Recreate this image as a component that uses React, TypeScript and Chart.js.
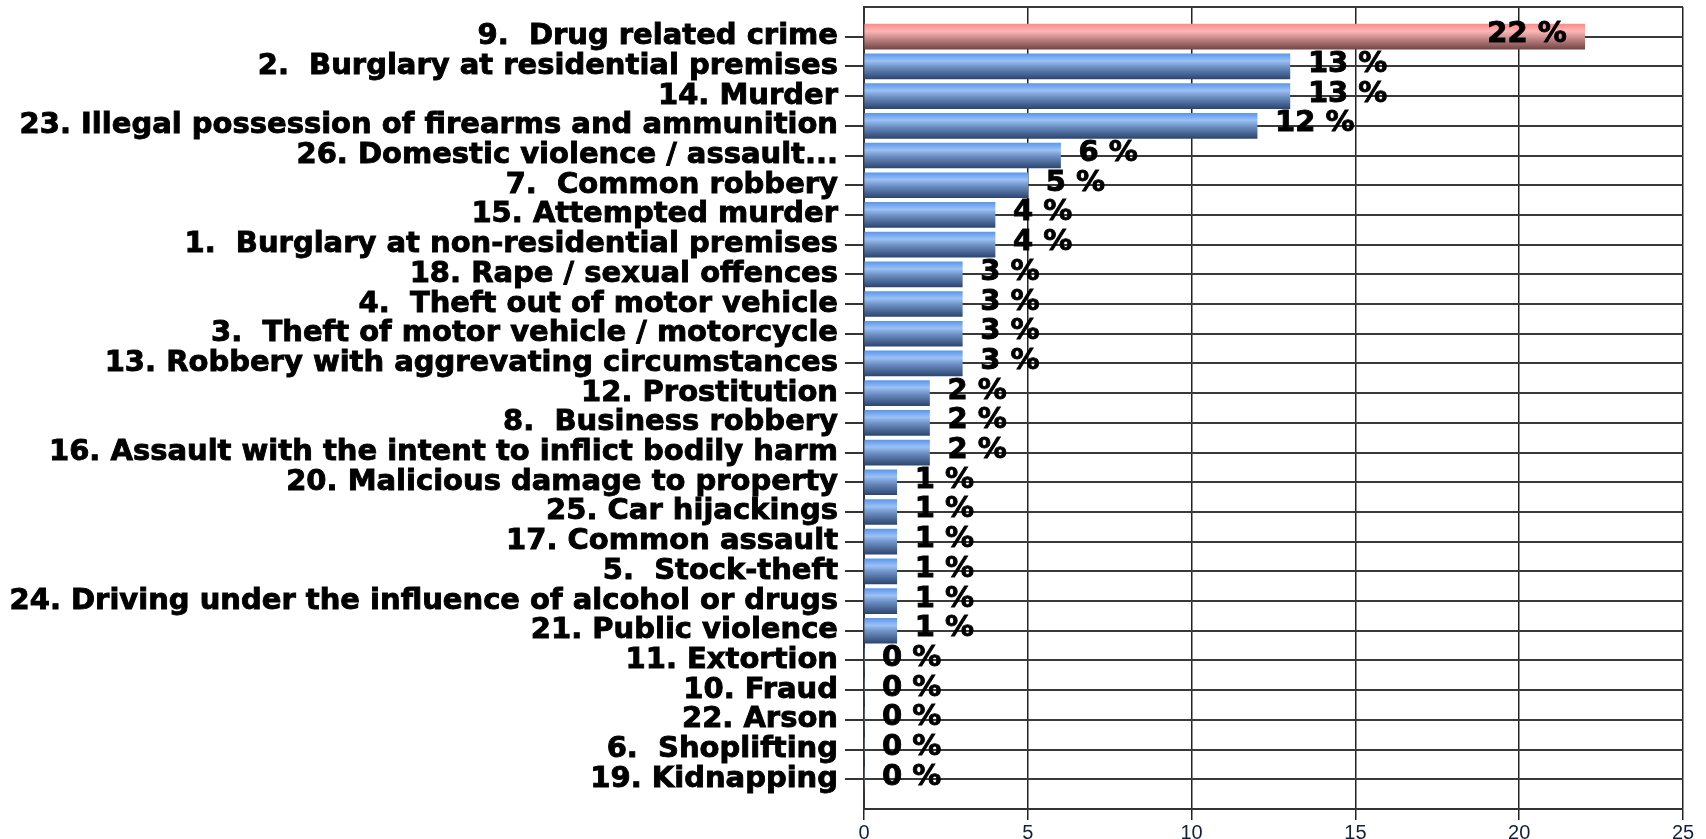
import React, { useEffect, useRef } from "react";
import { Chart, registerables } from "chart.js";

Chart.register(...registerables);

const CATEGORIES: string[] = [
  "9.  Drug related crime",
  "2.  Burglary at residential premises",
  "14. Murder",
  "23. Illegal possession of firearms and ammunition",
  "26. Domestic violence / assault...",
  "7.  Common robbery",
  "15. Attempted murder",
  "1.  Burglary at non-residential premises",
  "18. Rape / sexual offences",
  "4.  Theft out of motor vehicle",
  "3.  Theft of motor vehicle / motorcycle",
  "13. Robbery with aggrevating circumstances",
  "12. Prostitution",
  "8.  Business robbery",
  "16. Assault with the intent to inflict bodily harm",
  "20. Malicious damage to property",
  "25. Car hijackings",
  "17. Common assault",
  "5.  Stock-theft",
  "24. Driving under the influence of alcohol or drugs",
  "21. Public violence",
  "11. Extortion",
  "10. Fraud",
  "22. Arson",
  "6.  Shoplifting",
  "19. Kidnapping",
];

const PERCENTAGES: number[] = [
  22, 13, 13, 12, 6, 5, 4, 4, 3, 3, 3, 3, 2, 2, 2, 1, 1, 1, 1, 1, 1, 0, 0, 0, 0, 0,
];

const HIGHLIGHTED: string[] = ["9.  Drug related crime"];

const X_MIN = 0;
const X_MAX = 25;
const X_STEP = 5;

const LABEL_FONT = "'DejaVu Sans', sans-serif";

export default function App() {
  const canvasRef = useRef<HTMLCanvasElement | null>(null);

  useEffect(() => {
    const canvas = canvasRef.current;
    if (!canvas) return;

    const yLabels = ["", ...CATEGORIES, ""];
    const yData: (number | null)[] = [null, ...PERCENTAGES, null];

    const makeGradient = (chart: any, index: number, highlighted: boolean) => {
      const fallback = highlighted ? "#d88a8a" : "#5f88c8";
      const yScale = chart.scales && chart.scales.y;
      if (!yScale) return fallback;
      const c = yScale.getPixelForValue(index);
      if (!isFinite(c)) return fallback;
      const g = chart.ctx.createLinearGradient(0, c - 12.5, 0, c + 12.5);
      if (highlighted) {
        g.addColorStop(0, "#ff8c8c");
        g.addColorStop(0.28, "#ffb6b6");
        g.addColorStop(0.55, "#c88c8c");
        g.addColorStop(1, "#744444");
      } else {
        g.addColorStop(0, "#5b97ef");
        g.addColorStop(0.28, "#9cc1f4");
        g.addColorStop(0.55, "#6a8cc0");
        g.addColorStop(1, "#2c4670");
      }
      return g;
    };

    const valueLabels = {
      id: "valueLabels",
      afterDatasetsDraw(chart: any) {
        const ctx = chart.ctx;
        const meta = chart.getDatasetMeta(0);
        const area = chart.chartArea;
        ctx.save();
        ctx.font = `bold 29px ${LABEL_FONT}`;
        ctx.fillStyle = "#000000";
        ctx.strokeStyle = "#000000";
        ctx.lineWidth = 0.9;
        ctx.textBaseline = "middle";
        meta.data.forEach((bar: any, i: number) => {
          const v = yData[i];
          if (v === null || v === undefined) return;
          const text = `${v} %`;
          const w = ctx.measureText(text).width;
          const gap = 18;
          let tx: number;
          if (bar.x + gap + w > area.right - 30) {
            ctx.textAlign = "right";
            tx = bar.x - gap;
          } else {
            ctx.textAlign = "left";
            tx = bar.x + gap;
          }
          ctx.fillText(text, tx, bar.y - 2);
          ctx.strokeText(text, tx, bar.y - 2);
        });
        ctx.restore();
      },
    };

    const chart = new Chart(canvas, {
      type: "bar",
      data: {
        labels: yLabels,
        datasets: [
          {
            data: yData as any,
            barThickness: 25,
            backgroundColor: (ctx: any) => {
              const idx = ctx.dataIndex;
              const label = yLabels[idx];
              return makeGradient(ctx.chart, idx, HIGHLIGHTED.includes(label));
            },
            borderWidth: 0,
          },
        ],
      },
      options: {
        indexAxis: "y",
        responsive: false,
        animation: false,
        devicePixelRatio: 1,
        layout: { padding: { top: 7, right: 23, left: 0, bottom: 0 } },
        plugins: {
          legend: { display: false },
          tooltip: { enabled: false },
        },
        scales: {
          x: {
            type: "linear",
            min: X_MIN,
            max: X_MAX,
            ticks: {
              stepSize: X_STEP,
              color: "#14203a",
              padding: 1,
              font: { family: "'Liberation Sans Narrow', 'Liberation Sans', sans-serif", size: 20 },
            },
            grid: {
              color: "#222222",
              lineWidth: 1.5,
              tickLength: 11,
              tickColor: "#222222",
              tickWidth: 1.5,
            },
            border: { color: "#333333", width: 2 },
            afterFit: (scale: any) => {
              scale.height = 30;
            },
          },
          y: {
            type: "category",
            offset: false,
            ticks: {
              autoSkip: false,
              color: "#000000",
              padding: 7,
              textStrokeColor: "#000000",
              textStrokeWidth: 0.9,
              font: { family: LABEL_FONT, size: 29, weight: "bold" },
            },
            grid: {
              offset: false,
              color: "#3a3a3a",
              lineWidth: 2,
              tickLength: 19,
              tickWidth: 2,
              tickColor: (ctx: any) =>
                ctx.index === 0 || ctx.index === yLabels.length - 1 ? "rgba(0,0,0,0)" : "#333333",
            },
            border: { color: "#333333", width: 2 },
            afterFit: (scale: any) => {
              scale.width = 864;
              scale.paddingTop = 0;
              scale.paddingBottom = 0;
            },
          },
        },
      },
      plugins: [valueLabels],
    });

    return () => {
      chart.destroy();
    };
  }, []);

  return (
    <div style={{ position: "absolute", left: 0, top: 0, width: 1706, height: 839, background: "#ffffff" }}>
      <canvas ref={canvasRef} width={1706} height={839} style={{ display: "block" }} />
    </div>
  );
}
